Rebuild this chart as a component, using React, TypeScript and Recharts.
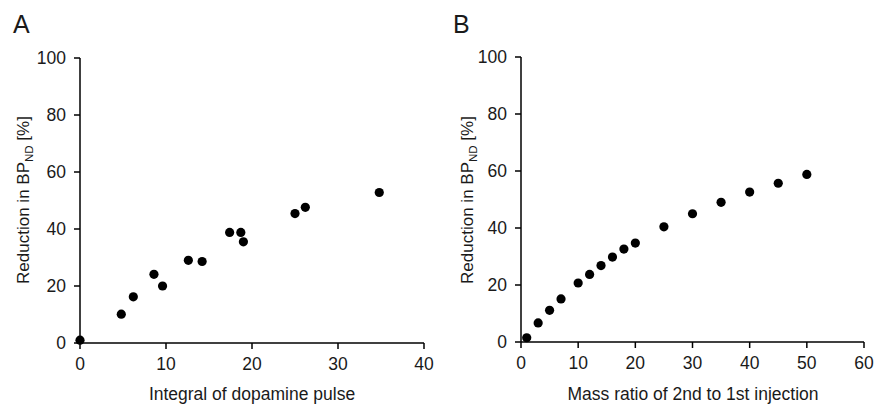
import { ScatterChart, Scatter, XAxis, YAxis } from "recharts";

// Panel A: integral of dopamine pulse vs reduction in BPND
const pulseIntegral = [0, 4.8, 6.2, 8.6, 9.6, 12.6, 14.2, 17.4, 18.7, 19.0, 25.0, 26.2, 34.8];
const reductionA = [1, 10.1, 16.2, 24.1, 20.0, 29.0, 28.6, 38.8, 38.8, 35.5, 45.4, 47.6, 52.8];

// Panel B: mass ratio of 2nd to 1st injection vs reduction in BPND
const massRatio = [1, 3, 5, 7, 10, 12, 14, 16, 18, 20, 25, 30, 35, 40, 45, 50];
const reductionB = [1.5, 6.7, 11.1, 15.1, 20.7, 23.7, 26.8, 29.8, 32.6, 34.7, 40.4, 45.0, 49.0, 52.6, 55.7, 58.8];

const ticksA = [0, 10, 20, 30, 40];
const ticksB = [0, 10, 20, 30, 40, 50, 60];
const yTicks = [0, 20, 40, 60, 80, 100];

const dataA = pulseIntegral.map((x, i) => ({ x, y: reductionA[i] }));
const dataB = massRatio.map((x, i) => ({ x, y: reductionB[i] }));

const FONT = "'Liberation Sans', Arial, sans-serif";
const INK = "#1a1a1a";
const tickStyle = { fontSize: 17.5, fill: INK, fontFamily: FONT };

const Dot = (props: any) => <circle cx={props.cx} cy={props.cy} r={4.6} fill="#000" />;

function YLabel({ x, y }: { x: number; y: number }) {
  return (
    <text
      x={x}
      y={y}
      transform={`rotate(-90 ${x} ${y})`}
      textAnchor="middle"
      fontSize={17}
      fontFamily={FONT}
      fill={INK}
    >
      Reduction in BP
      <tspan dy={4} fontSize={11.5}>ND</tspan>
      <tspan dy={-4}> [%]</tspan>
    </text>
  );
}

function XLabel({ x, y, text }: { x: number; y: number; text: string }) {
  return (
    <text x={x} y={y} textAnchor="middle" fontSize={17.5} fontFamily={FONT} fill={INK}>
      {text}
    </text>
  );
}

interface PanelProps {
  data: { x: number; y: number }[];
  xTicks: number[];
  xMax: number;
  width: number;
  margin: { top: number; right: number; bottom: number; left: number };
  xLabel: string;
  xLabelX: number;
  yLabelX: number;
}

function Panel({ data, xTicks, xMax, width, margin, xLabel, xLabelX, yLabelX }: PanelProps) {
  return (
    <ScatterChart width={width} height={406} margin={margin}>
      <XAxis
        type="number"
        dataKey="x"
        domain={[0, xMax]}
        ticks={xTicks}
        interval={0}
        height={30}
        tickSize={6}
        tickMargin={9}
        tick={tickStyle}
        axisLine={{ stroke: "#000", strokeWidth: 1.5 }}
        tickLine={{ stroke: "#000", strokeWidth: 1.5 }}
        label={() => <XLabel x={xLabelX} y={400} text={xLabel} />}
      />
      <YAxis
        type="number"
        dataKey="y"
        domain={[0, 100]}
        ticks={yTicks}
        interval={0}
        width={60}
        tickSize={6}
        tickMargin={8}
        tick={tickStyle}
        axisLine={{ stroke: "#000", strokeWidth: 1.5 }}
        tickLine={{ stroke: "#000", strokeWidth: 1.5 }}
        label={() => <YLabel x={yLabelX} y={200} />}
      />
      <Scatter data={data} shape={Dot} isAnimationActive={false} />
    </ScatterChart>
  );
}

const letterStyle: React.CSSProperties = {
  position: "absolute",
  fontFamily: FONT,
  fontSize: 25,
  color: INK,
  lineHeight: 1,
};

export default function App() {
  return (
    <div style={{ position: "absolute", left: 0, top: 0, width: 875, height: 406, background: "#fff" }}>
      <div style={{ ...letterStyle, left: 13, top: 12 }}>A</div>
      <div style={{ ...letterStyle, left: 453, top: 12 }}>B</div>
      <div style={{ position: "absolute", left: 0, top: 0 }}>
        <Panel
          data={dataA}
          xTicks={ticksA}
          xMax={40}
          width={440}
          margin={{ top: 58, right: 16, bottom: 33, left: 20 }}
          xLabel="Integral of dopamine pulse"
          xLabelX={252}
          yLabelX={29}
        />
      </div>
      <div style={{ position: "absolute", left: 440, top: 0 }}>
        <Panel
          data={dataB}
          xTicks={ticksB}
          xMax={60}
          width={435}
          margin={{ top: 57, right: 11, bottom: 34, left: 21 }}
          xLabel="Mass ratio of 2nd to 1st injection"
          xLabelX={253}
          yLabelX={33}
        />
      </div>
    </div>
  );
}
